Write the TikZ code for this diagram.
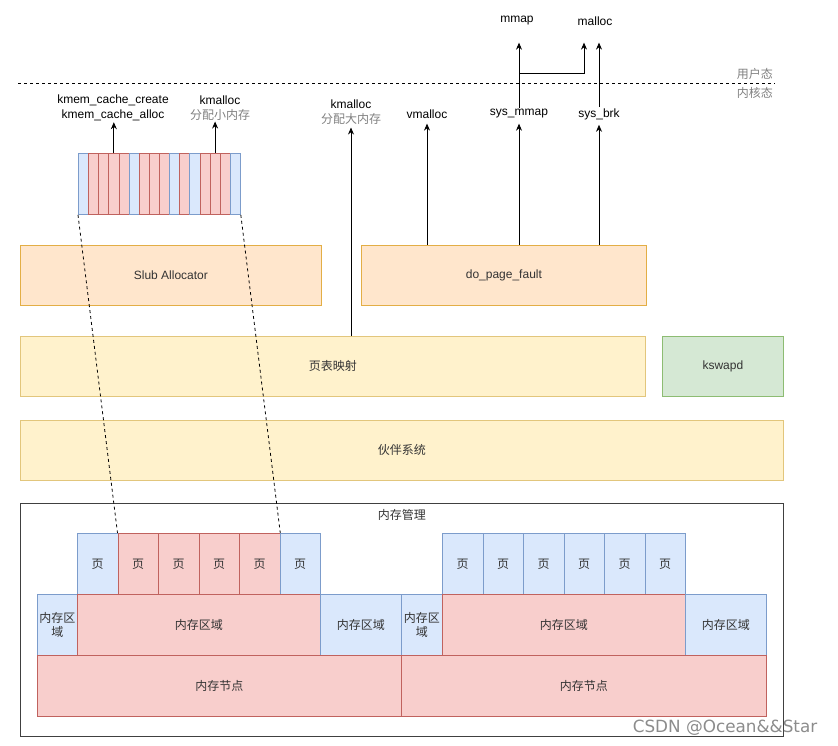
\documentclass[tikz,border=0pt]{standalone}
\usepackage{fontspec}
\setmainfont{Liberation Sans}
\newfontfamily\cjk{Noto Sans CJK SC}
\newfontfamily\markfont{DejaVu Sans}
\usetikzlibrary{positioning,arrows.meta}
\definecolor{orangefill}{HTML}{FFE6CC}
\definecolor{orangeline}{HTML}{E3AE45}
\definecolor{yellowfill}{HTML}{FFF2CC}
\definecolor{yellowline}{HTML}{E2C67C}
\definecolor{greenfill}{HTML}{D5E8D4}
\definecolor{greenline}{HTML}{8DBC72}
\definecolor{bluefill}{HTML}{DAE8FC}
\definecolor{blueline}{HTML}{7C9CCB}
\definecolor{redfill}{HTML}{F8CECC}
\definecolor{redline}{HTML}{C0625E}
\definecolor{textgray}{HTML}{808080}
\definecolor{boxtext}{HTML}{333333}

\tikzset{
  box/.style={draw, line width=0.8pt, anchor=north west, inner sep=0pt,
    text=boxtext, align=center, font=\fontsize{12}{14}\selectfont},
  zh/.style={font=\cjk\fontsize{12}{14}\selectfont},
  slubbox/.style={box, draw=orangeline, fill=orangefill},
  mapbox/.style={box, draw=yellowline, fill=yellowfill},
  swapbox/.style={box, draw=greenline, fill=greenfill},
  cellb/.style={box, draw=blueline, fill=bluefill},
  cellr/.style={box, draw=redline, fill=redfill},
  api/.style={inner sep=1pt, align=center, font=\fontsize{12}{15}\selectfont},
  arr/.style={-{Stealth[length=7pt,width=6pt]}, line width=0.8pt},
  link/.style={dash pattern=on 3pt off 3pt, line width=0.8pt}
}

\begin{document}
\begin{tikzpicture}[x=1pt, y=-1pt]
  \useasboundingbox (0,0) rectangle (838,746);
  % Define user / kernel line
  \coordinate (sepl) at (18,83);
  \coordinate (sepr) at (775,83);
  \draw[link] (sepl) -- (sepr);
  \node[zh, text=textgray, anchor=south east, inner sep=1pt] (userside) at (774,81) {用户态};
  \node[zh, text=textgray, anchor=north east, inner sep=1pt] (kernside) at (774,86) {内核态};
  % Define api labels
  \node[api] (mmap) at (517,21) {mmap};
  \node[api] (malloc) at (595,21) {malloc};
  \node[api] (sysmmap) at (519,114) {sys\_mmap};
  \node[api] (sysbrk) at (599,114) {sys\_brk};
  \node[api] (vmalloc) at (427,114) {vmalloc};
  \node[api] (kmallocbig) at (351,112) {kmalloc\\{\cjk\color{textgray}分配大内存}};
  \node[api] (kmallocsmall) at (220,108) {kmalloc\\{\cjk\color{textgray}分配小内存}};
  \node[api] (kmemcache) at (113,108) {kmem\_cache\_create\\kmem\_cache\_alloc};
  % Define boxes
  \node[slubbox, minimum width=301pt, minimum height=60pt] (slub) at (20,245) {Slub Allocator};
  \node[slubbox, minimum width=285pt, minimum height=60pt] (fault) at (361,245) {do\_page\_fault};
  \node[mapbox, zh, minimum width=625pt, minimum height=60pt] (pagemap) at (20,336) {页表映射};
  \node[swapbox, minimum width=121pt, minimum height=60pt] (kswapd) at (662,336) {kswapd};
  \node[mapbox, zh, minimum width=763pt, minimum height=60pt] (buddy) at (20,420) {伙伴系统};
  \node[box, draw=black!75, fill=white, minimum width=763pt, minimum height=233pt] (memmgmt) at (20,503) {};
  \node[zh, text=boxtext, below=3pt of memmgmt.north] (mgmttitle) {内存管理};
  % Define slab objects
  \foreach \c [count=\i] in {b,r,r,r,r,b,r,r,r,b,r,b,r,r,r,b}
    \node[cell\c, minimum width=10.125pt, minimum height=61pt] (cell\i) at ({78+10.125*(\i-1)},153) {};
  % Define pages
  \foreach \c [count=\i] in {b,r,r,r,r,b}
    \node[cell\c, zh, minimum width=40.5pt, minimum height=61pt] (lpage\i) at ({77+40.5*(\i-1)},533) {页};
  \foreach \i in {1,...,6}
    \node[cellb, zh, minimum width=40.5pt, minimum height=61pt] (rpage\i) at ({442+40.5*(\i-1)},533) {页};
  % Define zones and nodes
  \node[cellb, zh, minimum width=40pt, minimum height=61pt] (lzonea) at (37,594) {内存区\\域};
  \node[cellr, zh, minimum width=243pt, minimum height=61pt] (lzoneb) at (77,594) {内存区域};
  \node[cellb, zh, minimum width=81pt, minimum height=61pt] (lzonec) at (320,594) {内存区域};
  \node[cellb, zh, minimum width=41pt, minimum height=61pt] (rzonea) at (401,594) {内存区\\域};
  \node[cellr, zh, minimum width=243pt, minimum height=61pt] (rzoneb) at (442,594) {内存区域};
  \node[cellb, zh, minimum width=81pt, minimum height=61pt] (rzonec) at (685,594) {内存区域};
  \node[cellr, zh, minimum width=364pt, minimum height=61pt] (lnode) at (37,655) {内存节点};
  \node[cellr, zh, minimum width=365pt, minimum height=61pt] (rnode) at (401,655) {内存节点};
  % Define arrows
  \draw[arr] (cell4.north) -- (cell4.north |- kmemcache.south);
  \draw[arr] (cell14.north) -- (cell14.north |- kmallocsmall.south);
  \draw[arr, shorten >=2pt] (pagemap.north -| kmallocbig) -- (kmallocbig.south);
  \draw[arr, shorten >=4pt] (fault.north -| vmalloc) -- (vmalloc.south);
  \draw[arr, shorten >=4pt] (fault.north -| sysmmap) -- (sysmmap.south);
  \draw[arr, shorten >=4pt] (fault.north -| sysbrk) -- (sysbrk.south);
  \draw[arr, shorten >=16pt] (sysmmap.north) -- (sysmmap.north |- mmap.south);
  \draw[arr, shorten >=16pt] (sysbrk.north) -- (sysbrk.north |- malloc.south);
  \coordinate (fork) at (519,73);
  \draw[arr, shorten >=16pt] (fork) -| ([xshift=-11pt]malloc.south);
  % Define slab to page links
  \draw[link] (cell1.south west) -- (lpage2.north west);
  \draw[link] (cell16.south east) -- (lpage5.north east);
  % watermark
  \node[font=\markfont\fontsize{16.8}{18}\selectfont, text=black!45] (mark) at (725,728) {CSDN @Ocean\&\&Star};
\end{tikzpicture}
\end{document}
